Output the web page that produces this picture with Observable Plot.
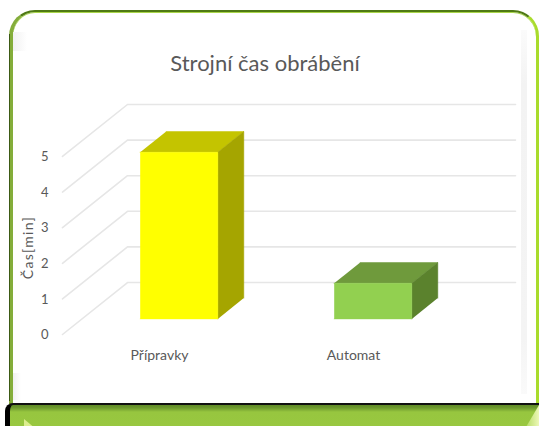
<!DOCTYPE html>
<html lang="cs">
<head>
<meta charset="utf-8">
<script src="https://cdn.jsdelivr.net/npm/d3@7"></script>
<script src="https://cdn.jsdelivr.net/npm/@observablehq/plot@0.6"></script>
<style>
html,body{margin:0;padding:0;background:#fff;width:539px;height:426px;overflow:hidden;font-family:Lato,sans-serif}
#page{position:relative;width:539px;height:426px;overflow:hidden}
.abs{position:absolute}
#frame{left:9px;top:10px;width:523px;height:393px;box-sizing:content-box;border-radius:26px 26px 0 0;
 border-top:2px solid #4f7a14;border-left:4px solid #84ad3a;border-right:3px solid #a9dc2c;border-bottom:0;background:#fff;
 box-shadow:inset 0 1px 0 #a9d64a}
#frameDark{left:9px;top:34px;width:1px;height:367px;background:#3c5a14}
#bandR{left:521px;top:30px;width:6px;height:364px;background:linear-gradient(#fbfbfb,#f3f3f3 15%,#f4f4f4 85%,#fafafa)}
#cornerL{left:13px;top:32px;width:14px;height:19px;background:linear-gradient(90deg,#f1f1f1,#fff)}
#cornerLb{left:13px;top:373px;width:8px;height:27px;background:linear-gradient(90deg,#f0f0f0,#fff)}
#bar{left:5px;top:403px;width:534px;height:30px;background:linear-gradient(#5f8a25 0,#6f9b2f 3px,#97c63f 7px,#99c840 100%);
 border-top:2px solid #111;border-left:5px solid #000;border-radius:8px 0 0 0;box-sizing:border-box}
#triL{left:24px;top:419px;width:12px;height:10px;background:#dcee8e;clip-path:polygon(0 0,100% 100%,0 100%)}
#triR{left:526px;top:405px;width:13px;height:22px;background:linear-gradient(90deg,#b6dc64,#edf8b8);clip-path:polygon(100% 0,100% 100%,0 100%)}
#chart{left:0;top:0}
#chart svg{display:block;background:transparent}
</style>
</head>
<body>
<div id="page">
  <div class="abs" id="frame"></div>
  <div class="abs" id="frameDark"></div>
  <div class="abs" id="cornerL"></div>
  <div class="abs" id="cornerLb"></div>
  <div class="abs" id="bandR"></div>
  <div class="abs" id="bar"></div>
  <div class="abs" id="triL"></div>
  <div class="abs" id="triR"></div>
  <div class="abs" id="chart"></div>
</div>
<script>
// Chart values
const categories = ["Přípravky", "Automat"];
const values = [4.68, 1];
const frontColors = ["#ffff00", "#92d050"];
const topColors = ["#c4c400", "#6f9a3c"];
const sideColors = ["#a5a500", "#5b822d"];
const yTicks = [0, 1, 2, 3, 4, 5];
const chartTitle = "Strojní čas obrábění";
const yLabel = "Čas[min]";

// Oblique 3D projection, in data units: category slot, value, depth (0 front – 1 back)
const depthX = 0.335, depthY = 1.46;
const barWidth = 0.4, depthNear = 0.3, depthFar = 0.7;
const project = (c, v, d) => ({x: c + d * depthX, y: v + d * depthY});

// Wall grid
const grid = yTicks.flatMap((v) => [
  {...project(0, v, 0), v},
  {...project(0, v, 1), v},
  {...project(categories.length, v, 1), v}
]);

// Bar faces
const faces = categories.flatMap((name, i) => {
  const c0 = i + 0.5 - barWidth / 2, c1 = i + 0.5 + barWidth / 2, h = values[i];
  const face = (id, fill, corners) => corners.map(([c, v, d]) => ({...project(c, v, d), id: name + id, fill}));
  return [
    ...face("top", topColors[i], [[c0,h,depthNear],[c1,h,depthNear],[c1,h,depthFar],[c0,h,depthFar]]),
    ...face("side", sideColors[i], [[c1,0,depthNear],[c1,h,depthNear],[c1,h,depthFar],[c1,0,depthFar]]),
    ...face("front", frontColors[i], [[c0,0,depthNear],[c1,0,depthNear],[c1,h,depthNear],[c0,h,depthNear]])
  ];
});

const plot = Plot.plot({
  width: 539,
  height: 426,
  marginLeft: 62,
  marginRight: 24,
  marginTop: 104,
  marginBottom: 92,
  style: {background: "transparent", fontFamily: "Lato, sans-serif", overflow: "visible"},
  x: {domain: [0, categories.length + depthX]},
  y: {domain: [0, 5 + depthY]},
  marks: [
    Plot.line(grid, {x: "x", y: "y", z: "v", stroke: "#e6e6e6", strokeWidth: 1.6, curve: "linear"}),
    Plot.line(faces, {x: "x", y: "y", z: "id", fill: "fill", stroke: "fill", strokeWidth: 0.5, curve: "linear"}),
    Plot.axisY({
      ticks: yTicks, tickSize: 0, tickPadding: 14, tickFormat: "d", label: null,
      fontSize: 13, color: "#595959", dy: 0.5
    }),
    Plot.axisX({
      ticks: categories.map((_, i) => i + 0.5), tickSize: 0, tickPadding: 16, label: null,
      tickFormat: (t) => categories[Math.floor(t)], fontSize: 14, color: "#595959"
    }),
    Plot.text([chartTitle], {
      text: (d) => d, frameAnchor: "top", dy: -34, dx: -24, fontSize: 22, fill: "#595959", lineAnchor: "bottom"
    }),
    Plot.text([yLabel], {
      text: (d) => d, y: () => 2.44, frameAnchor: "left", textAnchor: "middle", rotate: -90, dx: -34, fontSize: 14, fill: "#595959"
    })
  ]
});
document.getElementById("chart").appendChild(plot);
d3.select(plot).selectAll("text").filter(function () { return this.textContent === yLabel; }).style("letter-spacing", "1.3px");
</script>
</body>
</html>
